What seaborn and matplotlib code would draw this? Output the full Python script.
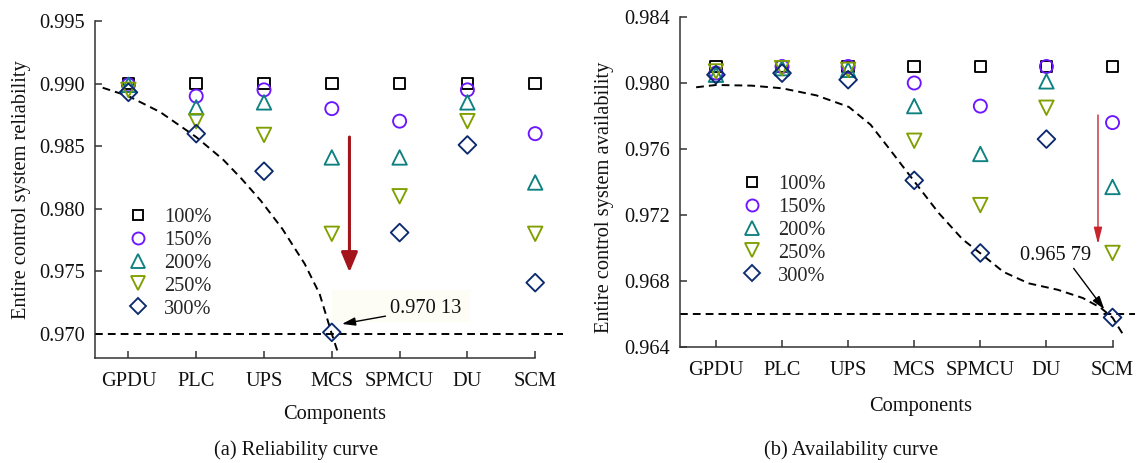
import matplotlib
matplotlib.use("Agg")
import matplotlib.pyplot as plt
from matplotlib.lines import Line2D
from matplotlib.patches import Rectangle
import pandas as pd
import seaborn as sns

# ---------------------------------------------------------------- data
components = ["GPDU", "PLC", "UPS", "MCS", "SPMCU", "DU", "SCM"]
levels = ["100%", "150%", "200%", "250%", "300%"]

# entire control system reliability for each component failure-rate level
rel_100 = [0.9900, 0.9900, 0.9900, 0.9900, 0.9900, 0.9900, 0.9900]
rel_150 = [0.9899, 0.9890, 0.9895, 0.9880, 0.9870, 0.9895, 0.9860]
rel_200 = [0.9899, 0.9881, 0.9885, 0.9841, 0.9841, 0.9885, 0.9821]
rel_250 = [0.9895, 0.9870, 0.9859, 0.9780, 0.9810, 0.9870, 0.9780]
rel_300 = [0.9893, 0.9860, 0.9830, 0.97013, 0.9781, 0.9851, 0.9741]

# entire control system availability for each component failure-rate level
avail_100 = [0.9810, 0.9810, 0.9810, 0.9810, 0.9810, 0.9810, 0.9810]
avail_150 = [0.9806, 0.9810, 0.9810, 0.9800, 0.9786, 0.9810, 0.9776]
avail_200 = [0.9805, 0.9809, 0.9808, 0.9786, 0.9757, 0.9801, 0.9737]
avail_250 = [0.9807, 0.9809, 0.9808, 0.9765, 0.9726, 0.9785, 0.9697]
avail_300 = [0.9805, 0.9806, 0.9802, 0.9741, 0.9697, 0.9766, 0.96579]

# dashed trend curves (component position, value)
rel_trend_x = [-0.38, 0.0, 0.47, 1.0, 1.4, 1.67, 1.95, 2.27, 2.6, 2.82, 3.0, 3.1]
rel_trend_y = [0.98967, 0.98900, 0.98772, 0.98573, 0.98391, 0.98239, 0.98066,
               0.97840, 0.97560, 0.97320, 0.97000, 0.96835]
avail_trend_x = [-0.30, 0.0, 0.54, 1.0, 1.52, 2.01, 2.34, 2.61, 3.0, 3.37, 3.73,
                 4.0, 4.35, 4.73, 5.17, 5.55, 5.82, 6.0, 6.17]
avail_trend_y = [0.97974, 0.97988, 0.97984, 0.97968, 0.97925, 0.97855, 0.97747,
                 0.97608, 0.97404, 0.97212, 0.97053, 0.96968, 0.96855, 0.96786,
                 0.96747, 0.96697, 0.96638, 0.96578, 0.96469]

rel_limit = 0.970
avail_limit = 0.966
rel_ticks = [0.970, 0.975, 0.980, 0.985, 0.990, 0.995]
avail_ticks = [0.964, 0.968, 0.972, 0.976, 0.980, 0.984]

# ---------------------------------------------------------------- style
sns.set_style("ticks")
plt.rcParams["font.family"] = ["Liberation Serif", "DejaVu Serif"]
plt.rcParams["axes.linewidth"] = 1.1
plt.rcParams["axes.edgecolor"] = "#333333"

FS = 14.7
colors = ["#000000", "#6c16ff", "#0e8080", "#7fa000", "#0c2a6e"]
markers = ["s", "o", "^", "v", "D"]
msizes = [8.4, 9.4, 10.4, 10.4, 9.0]
dash = (0, (4, 2.6))

W, H = 1140, 463
fig = plt.figure(figsize=(W / 100, H / 100), dpi=100)


def frac(x0, y0, x1, y1):
    return [x0 / W, 1 - y1 / H, (x1 - x0) / W, (y1 - y0) / H]


ax1 = fig.add_axes(frac(95, 21, 563, 358))
ax2 = fig.add_axes(frac(680, 17, 1135, 347))


def long_frame(series):
    rows = []
    for lvl, vals in zip(levels, series):
        for i, v in enumerate(vals):
            rows.append({"pos": i, "component": components[i], "level": lvl, "value": v})
    return pd.DataFrame(rows)


def draw_panel(ax, series, trend_x, trend_y, limit, ticks, ylim, xlim, legend_xy):
    df = long_frame(series)
    ax.axhline(limit, color="black", lw=1.4, ls=dash, zorder=2)
    sns.lineplot(x=trend_x, y=trend_y, ax=ax, color="black", lw=1.4,
                 linestyle=dash, sort=False, estimator=None, zorder=2)
    for lvl, c, m, ms in zip(levels, colors, markers, msizes):
        sub = df[df["level"] == lvl]
        sns.scatterplot(data=sub, x="pos", y="value", ax=ax, marker=m, s=ms ** 2,
                        facecolor="none", edgecolor=c, linewidth=1.35, zorder=3)
    ax.set_xlim(*xlim)
    ax.set_ylim(*ylim)
    ax.set_xticks(range(len(components)))
    ax.set_xticklabels(components)
    ax.set_yticks(ticks)
    ax.set_yticklabels([f"{t:.3f}" for t in ticks])
    ax.tick_params(direction="in", length=5, width=1.1, labelsize=FS, pad=7,
                   color="#333333", labelcolor="#111111")
    ax.tick_params(axis="x", pad=10)
    sns.despine(ax=ax)
    ax.spines["bottom"].set_bounds(xlim[0], len(components) - 1)
    ax.set_xlabel("")
    ax.set_ylabel("")
    handles = [Line2D([], [], ls="none", marker=m, ms=ms * 0.92, mfc="none", mec=c, mew=1.35)
               for c, m, ms in zip(colors, markers, msizes)]
    ax.legend(handles, levels, loc="center left", bbox_to_anchor=legend_xy,
              bbox_transform=fig.transFigure, frameon=False, fontsize=FS,
              handlelength=1.0, handletextpad=0.75, labelspacing=0.18,
              borderpad=0, borderaxespad=0)


rel_series = [rel_100, rel_150, rel_200, rel_250, rel_300]
avail_series = [avail_100, avail_150, avail_200, avail_250, avail_300]

draw_panel(ax1, rel_series, rel_trend_x, rel_trend_y, rel_limit, rel_ticks,
           (0.96808, 0.995), (-0.493, 6.41), (128 / W, 1 - 263 / H))
draw_panel(ax2, avail_series, avail_trend_x, avail_trend_y, avail_limit, avail_ticks,
           (0.964, 0.984), (-0.544, 6.34), (742 / W, 1 - 230 / H))


def spaced(v):
    s = f"{v:.5f}"
    return s[:5] + " " + s[5:]


# reliability panel: drop arrow and minimum-value callout
ax1.annotate("", xy=(3.26, 0.97493), xytext=(3.26, 0.98573),
             arrowprops=dict(arrowstyle="-|>,head_length=1.2,head_width=0.5",
                             mutation_scale=10, color="#a3141b", lw=2.2,
                             shrinkA=0, shrinkB=0), zorder=4)
ax1.add_patch(Rectangle((3.0, 0.97093), 2.04, 0.00258, facecolor="#fdfcf5",
                        edgecolor="none", zorder=0))
ax1.annotate(spaced(rel_300[3]), xy=(3.15, 0.97080), xytext=(3.86, 0.97200),
             fontsize=FS, va="center", ha="left", color="#111111",
             arrowprops=dict(arrowstyle="-|>,head_length=0.8,head_width=0.25",
                             mutation_scale=10, color="black", lw=1.0,
                             shrinkA=1, shrinkB=0), zorder=5)

# availability panel: drop arrow and minimum-value callout
ax2.annotate("", xy=(5.78, 0.97024), xytext=(5.78, 0.97806),
             arrowprops=dict(arrowstyle="-|>,head_length=1.0,head_width=0.25",
                             mutation_scale=10, color="#c8242b", lw=1.0,
                             shrinkA=0, shrinkB=0), zorder=4)
ax2.annotate(spaced(avail_300[6]), xy=(5.876, 0.96628), xytext=(4.60, 0.96954),
             fontsize=FS, va="center", ha="left", color="#111111",
             arrowprops=dict(arrowstyle="-|>,head_length=0.8,head_width=0.25",
                             mutation_scale=10, color="black", lw=1.0,
                             shrinkA=0, shrinkB=0, relpos=(0.72, 0.0)), zorder=5)

# axis titles and panel captions
fig.text(22 / W, 1 - 190 / H, "Entire control system reliability", rotation=90,
         ha="center", va="center", fontsize=FS, color="#111111")
fig.text(605 / W, 1 - 197 / H, "Entire control system availability", rotation=90,
         ha="center", va="center", fontsize=FS, color="#111111")
fig.text(335 / W, 1 - 414 / H, "Components", ha="center", va="center", fontsize=FS,
         color="#111111")
fig.text(921 / W, 1 - 406 / H, "Components", ha="center", va="center", fontsize=FS,
         color="#111111")
fig.text(296 / W, 1 - 450 / H, "(a) Reliability curve", ha="center", va="center",
         fontsize=FS, color="#111111")
fig.text(851 / W, 1 - 450 / H, "(b) Availability curve", ha="center", va="center",
         fontsize=FS, color="#111111")

fig.savefig("out.png", dpi=100)
